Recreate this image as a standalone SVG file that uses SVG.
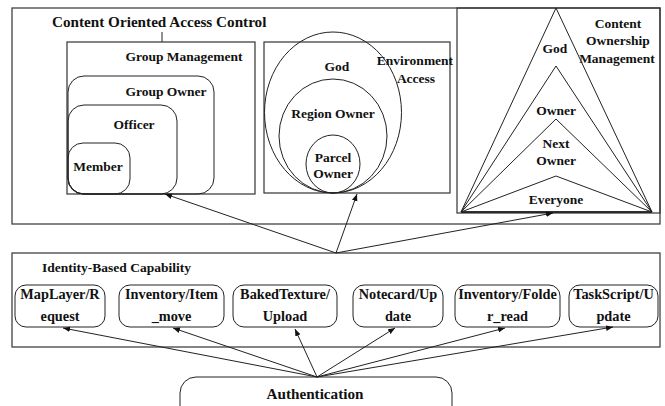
<svg xmlns="http://www.w3.org/2000/svg" width="665" height="406" viewBox="0 0 665 406">
<defs>
<marker id="ah" viewBox="0 0 10 10" refX="10" refY="5" markerWidth="7" markerHeight="7" orient="auto" markerUnits="userSpaceOnUse">
<path d="M0,1 L10,5 L0,9 z" fill="#111"/>
</marker>
<style>
.box{fill:none;stroke:#333;stroke-width:1.2}
.ln{fill:none;stroke:#222;stroke-width:1}
.t{font-family:"Liberation Serif","Times New Roman",serif;font-weight:bold;fill:#111;text-anchor:middle;font-size:13.5px}
.tl{text-anchor:start}
.big{font-size:15.2px}
.cap{font-size:14.3px}
.arr{fill:none;stroke:#222;stroke-width:1;marker-end:url(#ah)}
</style>
</defs>
<rect width="665" height="406" fill="#fff"/>

<g id="coac">
<rect class="box" x="12" y="8" width="648" height="216"/>
<text class="t tl big" x="52" y="27">Content Oriented Access Control</text>
<line class="ln" x1="162" y1="32" x2="162" y2="42"/>
</g>

<g id="group-management">
<rect class="box" x="67" y="42" width="188" height="152"/>
<text class="t" x="184" y="61">Group Management</text>
</g>
<g id="group-owner">
<rect class="ln" x="68" y="76" width="146" height="118" rx="16"/>
<text class="t" x="166" y="96">Group Owner</text>
</g>
<g id="officer">
<rect class="ln" x="68" y="105" width="109" height="89" rx="16"/>
<text class="t" x="134" y="129">Officer</text>
</g>
<g id="member">
<rect class="ln" x="68" y="143" width="62" height="51" rx="15"/>
<text class="t" x="98" y="171">Member</text>
</g>

<g id="environment-access">
<rect class="box" x="264" y="42" width="186" height="151"/>
<text class="t" x="415" y="65">Environment</text>
<text class="t" x="416" y="83">Access</text>
</g>
<g id="env-god">
<ellipse class="ln" cx="333" cy="112.5" rx="68.5" ry="80.5"/>
<text class="t" x="337" y="71">God</text>
</g>
<g id="region-owner">
<ellipse class="ln" cx="333" cy="136" rx="54" ry="57"/>
<text class="t" x="333" y="118">Region Owner</text>
</g>
<g id="parcel-owner">
<ellipse class="ln" cx="333" cy="164" rx="27" ry="29"/>
<text class="t" x="333" y="162">Parcel</text>
<text class="t" x="333" y="178">Owner</text>
</g>

<g id="content-ownership-management">
<rect class="box" x="457" y="8" width="203" height="205"/>
<text class="t" x="618" y="28">Content</text>
<text class="t" x="618" y="45">Ownership</text>
<text class="t" x="617" y="63">Management</text>
</g>
<g id="own-god">
<polygon class="ln" points="556,8 461,212 652,212"/>
<text class="t" x="555" y="53">God</text>
</g>
<g id="owner">
<polygon class="ln" points="556,66 461,212 652,212"/>
<text class="t" x="556" y="115">Owner</text>
</g>
<g id="next-owner">
<polygon class="ln" points="556,119 461,212 652,212"/>
<text class="t" x="556" y="148">Next</text>
<text class="t" x="556" y="165">Owner</text>
</g>
<g id="everyone">
<polygon class="ln" points="556,176 461,212 652,212"/>
<text class="t" x="556" y="204">Everyone</text>
</g>

<g id="identity-based-capability">
<rect class="box" x="12" y="253" width="648" height="94"/>
<text class="t tl" x="42" y="272">Identity-Based Capability</text>
</g>
<g id="maplayer">
<rect class="ln" x="15" y="285" width="90" height="42" rx="11"/>
<text class="t cap" x="60" y="299">MapLayer/R</text>
<text class="t cap" x="60" y="321">equest</text>
</g>
<g id="inventory-item">
<rect class="ln" x="119" y="285" width="105" height="42" rx="11"/>
<text class="t cap" x="171.5" y="299">Inventory/Item</text>
<text class="t cap" x="171.5" y="321">_move</text>
</g>
<g id="bakedtexture">
<rect class="ln" x="233" y="285" width="104" height="42" rx="11"/>
<text class="t cap" x="285" y="299">BakedTexture/</text>
<text class="t cap" x="285" y="321">Upload</text>
</g>
<g id="notecard">
<rect class="ln" x="353" y="285" width="90" height="42" rx="11"/>
<text class="t cap" x="398" y="299">Notecard/Up</text>
<text class="t cap" x="398" y="321">date</text>
</g>
<g id="inventory-folder">
<rect class="ln" x="455" y="285" width="105" height="42" rx="11"/>
<text class="t cap" x="507.5" y="299">Inventory/Folde</text>
<text class="t cap" x="507.5" y="321">r_read</text>
</g>
<g id="taskscript">
<rect class="ln" x="569" y="285" width="89" height="42" rx="11"/>
<text class="t cap" x="613.5" y="299">TaskScript/U</text>
<text class="t cap" x="613.5" y="321">pdate</text>
</g>

<g id="authentication">
<rect class="ln" x="180" y="377" width="272" height="50" rx="16"/>
<text class="t big" x="315" y="399">Authentication</text>
</g>

<g id="connectors">
<line class="arr" x1="336" y1="253" x2="165" y2="194"/>
<line class="arr" x1="336" y1="253" x2="357" y2="194"/>
<line class="arr" x1="336" y1="253" x2="553" y2="213"/>
<line class="arr" x1="317" y1="377" x2="63" y2="328"/>
<line class="arr" x1="317" y1="377" x2="173" y2="328"/>
<line class="arr" x1="317" y1="377" x2="295" y2="329"/>
<line class="arr" x1="317" y1="377" x2="395" y2="328"/>
<line class="arr" x1="317" y1="377" x2="505" y2="328"/>
<line class="arr" x1="317" y1="377" x2="613" y2="327"/>
</g>
</svg>
